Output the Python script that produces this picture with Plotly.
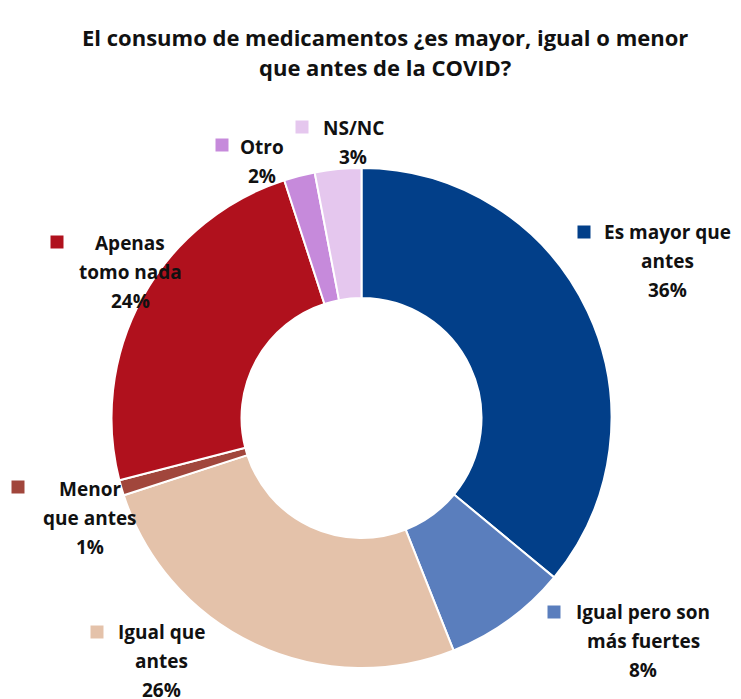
import plotly.graph_objects as go

# ── Data ──────────────────────────────────────────────────────────────────────
labels = [
    "Es mayor que antes",
    "Igual pero son más fuertes",
    "Igual que antes",
    "Menor que antes",
    "Apenas tomo nada",
    "Otro",
    "NS/NC",
]
label_lines = [
    ["Es mayor que", "antes"],
    ["Igual pero son", "más fuertes"],
    ["Igual que", "antes"],
    ["Menor", "que antes"],
    ["Apenas", "tomo nada"],
    ["Otro"],
    ["NS/NC"],
]
values = [36, 8, 26, 1, 24, 2, 3]
colors = ["#023f89", "#5a7ebd", "#e4c2aa", "#a1463c", "#b0111d", "#c68adb", "#e5c7ee"]
title_lines = [
    "El consumo de medicamentos ¿es mayor, igual o menor",
    "que antes de la COVID?",
]

# ── Label placement (pixels in the 741x699 window) ───────────────────────────
# the page body has an 8px margin, so the figure is drawn 8px in from the
# top-left corner; size it and shift all positions to compensate
OFF = 8
W, H = 741 - OFF, 699 - OFF
# text centre x, first line y, key square x, key square y
label_pos = [
    (667, 232, 584, 232),
    (643, 612, 554, 612),
    (161, 632, 97, 632),
    (90, 489, 18, 487),
    (130, 243, 57, 242),
    (262, 147, 222, 145),
    (353, 128, 302, 127),
]
LINE_H = 29
FONT = "Open Sans, Arial, sans-serif"


def px(x, y):
    return (x - OFF) / W, 1 - (y - OFF) / H


# pie centre (361.5, 418), radius 250 in window pixels
dx0, dy1 = px(111.5, 168)
dx1, dy0 = px(611.5, 668)

fig = go.Figure(
    go.Pie(
        labels=labels,
        values=values,
        hole=0.48,
        sort=False,
        direction="clockwise",
        rotation=0,
        marker=dict(colors=colors, line=dict(color="white", width=2)),
        textinfo="none",
        hoverinfo="label+percent",
        domain=dict(x=[dx0, dx1], y=[dy0, dy1]),
        showlegend=False,
    )
)

annotations = []
shapes = []
for i, lines in enumerate(label_lines):
    cx, y0, sx, sy = label_pos[i]
    all_lines = lines + [f"{values[i]}%"]
    for j, t in enumerate(all_lines):
        x, y = px(cx, y0 + j * LINE_H)
        annotations.append(dict(
            text=f"<b>{t}</b>", x=x, y=y, xref="paper", yref="paper",
            xanchor="center", yanchor="middle", showarrow=False,
            font=dict(family=FONT, size=19, color="#111111"),
        ))
    x0, y0p = px(sx - 6.5, sy - 6.5)
    x1, y1p = px(sx + 6.5, sy + 6.5)
    shapes.append(dict(
        type="rect", xref="paper", yref="paper",
        x0=x0, x1=x1, y0=y1p, y1=y0p,
        fillcolor=colors[i], line=dict(width=0),
    ))

for j, t in enumerate(title_lines):
    x, y = px(385, 37 + j * 30)
    annotations.append(dict(
        text=f"<b>{t}</b>", x=x, y=y, xref="paper", yref="paper",
        xanchor="center", yanchor="middle", showarrow=False,
        font=dict(family=FONT, size=22, color="#111111"),
    ))

fig.update_layout(
    width=W,
    height=H,
    margin=dict(t=0, l=0, r=0, b=0),
    paper_bgcolor="white",
    plot_bgcolor="white",
    annotations=annotations,
    shapes=shapes,
)

fig.write_html("out.html")
